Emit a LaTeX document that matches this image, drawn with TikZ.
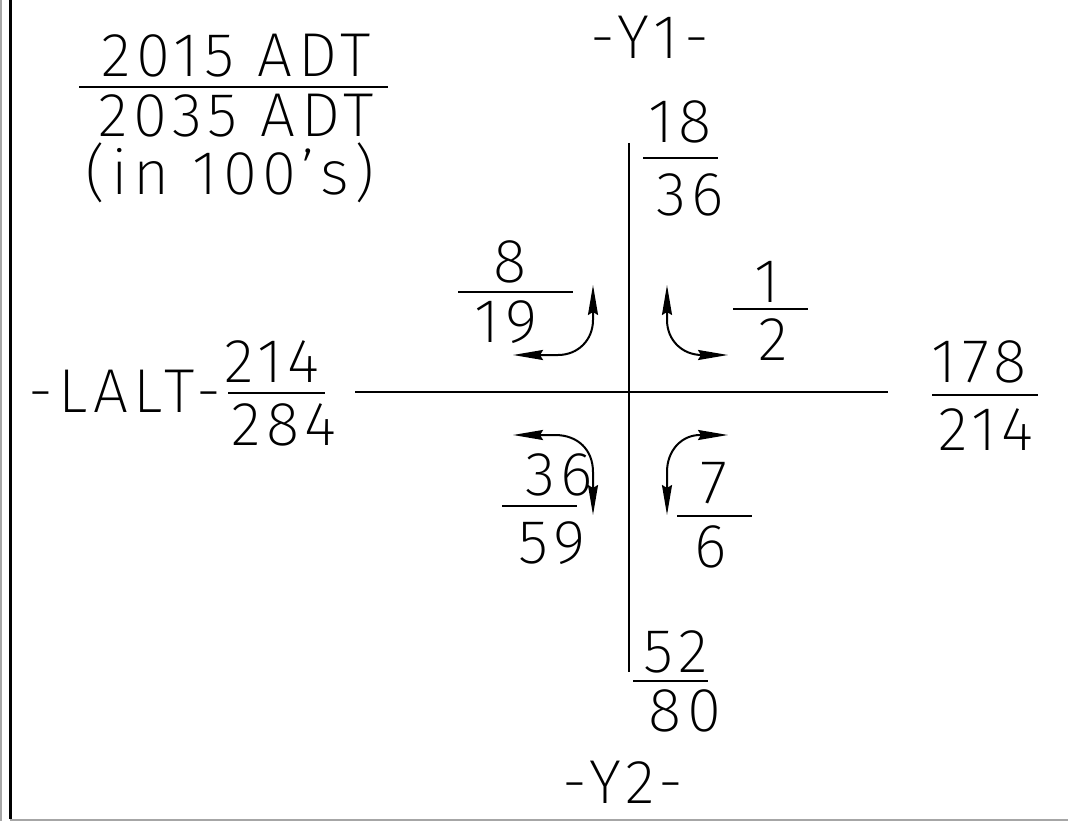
\documentclass[tikz,border=0pt]{standalone}
\usepackage{fontspec}
\newfontfamily\cadfont{Fira Sans ExtraLight}[LetterSpace=9]
\usetikzlibrary{arrows.meta}
\begin{document}
\begin{tikzpicture}[x=1pt,y=-1pt,
  every node/.style={font=\cadfont\fontsize{62}{66}\selectfont,inner sep=0pt,anchor=base},
  bar/.style={line width=2.2pt},
  turn/.style={line width=2pt,{Stealth[length=30pt,width=10pt,inset=3pt]}-{Stealth[length=30pt,width=10pt,inset=3pt]}}]
\useasboundingbox (0,0) rectangle (1068,821);
% sheet border
\draw[gray!70,line width=2pt] (1,0)--(1,821);
\draw[line width=3pt] (10.5,0)--(10.5,819);
\draw[gray!70,line width=2pt] (10,819.5)--(1068,819.5);
% legend
\node (leg1) at (236,77) {2015 ADT};
\draw[bar] (79,87)--(388,87);
\node (leg2) at (236,137) {2035 ADT};
\node (leg3) at (230,195) {(in 100’s)};
% roads
\draw[line width=2.6pt] (629,143)--(629,672);
\draw[line width=2.6pt] (355,392)--(888,392);
\node (y1) at (650,59) {-Y1-};
\node (y2) at (623,803) {-Y2-};
\node (lalt) at (125,412) {-LALT-};
% approach volumes
\node (n18) at (680,143) {18};
\draw[bar] (643,158)--(718,158);
\node (n36) at (690,215) {36};
\node (w214) at (272,382) {214};
\draw[bar] (228,393)--(325,393);
\node (w284) at (284,445) {284};
\node (e178) at (979,382) {178};
\draw[bar] (932,395)--(1038,395);
\node (e214) at (986,450) {214};
\node (s52) at (676,672) {52};
\draw[bar] (633,681)--(708,681);
\node (s80) at (685,731) {80};
% turning volumes
\node (t8) at (510,282) {8};
\draw[bar] (458,292)--(573,292);
\node (t19) at (506,342) {19};
\draw[turn] (513,355)--(558,355) .. controls (578,355) and (593,340) .. (593,320)--(593,285);
\node (t1) at (767,302) {1};
\draw[bar] (733,309)--(808,309);
\node (t2) at (773,360) {2};
\draw[turn] (667,285)--(667,320) .. controls (667,340) and (682,355) .. (702,355)--(728,355);
\node (t36) at (559,495) {36};
\draw[bar] (502,506)--(577,506);
\node (t59) at (552,563) {59};
\draw[turn] (513,435)--(555,435) .. controls (578,435) and (593,450) .. (593,472)--(593,515);
\node (t7) at (714,503) {7};
\draw[bar] (677,516)--(752,516);
\node (t6) at (711,567) {6};
\draw[turn] (728,435)--(700,435) .. controls (682,435) and (667,450) .. (667,472)--(667,515);
\end{tikzpicture}
\end{document}
